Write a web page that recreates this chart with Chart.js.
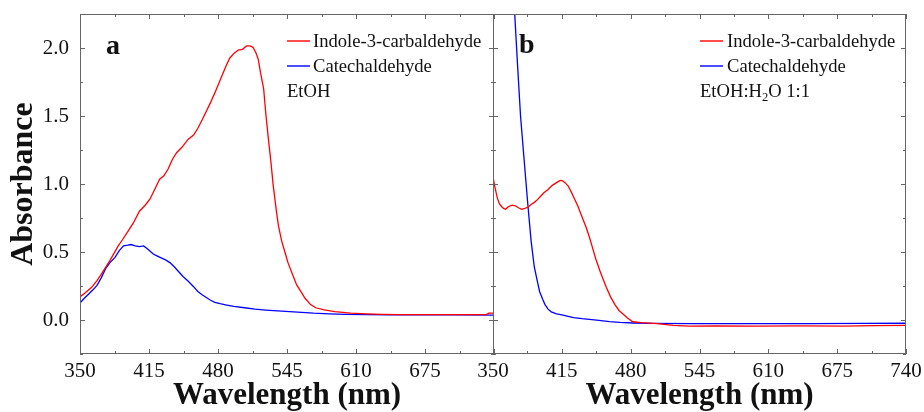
<!DOCTYPE html>
<html><head><meta charset="utf-8">
<script src="https://cdn.jsdelivr.net/npm/chart.js@4.4.1/dist/chart.umd.min.js"></script>
<style>
html,body{margin:0;padding:0;background:#fff;}
#wrap{position:relative;width:924px;height:412px;overflow:hidden;background:#fff;}
#ca{position:absolute;left:0;top:0;}
#cb{position:absolute;left:440px;top:0;}
</style></head><body>
<div id="wrap"><canvas id="ca" width="500" height="412"></canvas><canvas id="cb" width="484" height="412"></canvas></div>
<script>
// ---- tick labels ----
const xTicks = [350, 415, 480, 545, 610, 675, 740];
const yTicks = [0.0, 0.5, 1.0, 1.5, 2.0];

// ---- panel a (EtOH) ----
const aIndoleWl = [350,355,361,366,370,374,378,382,386,390,395,400,406,411,416,421,425,429,433,437,441,446,452,457,461,465,469,473,477,481,485,488,491,495,499,503,507,510,513,516,518,520,523,525,527.5,530,532,535,537,540,543,546,549.5,554,558,562,567,572,580,590,605,620,635,650,680,710,733,735,740];
const aIndole = [0.17,0.20,0.24,0.29,0.335,0.385,0.435,0.49,0.545,0.59,0.65,0.71,0.80,0.84,0.89,0.97,1.035,1.06,1.11,1.18,1.23,1.27,1.33,1.36,1.41,1.47,1.535,1.60,1.67,1.745,1.82,1.875,1.925,1.96,1.985,1.99,2.015,2.015,2.005,1.96,1.915,1.82,1.70,1.52,1.33,1.15,0.99,0.80,0.69,0.58,0.50,0.42,0.35,0.26,0.21,0.16,0.115,0.09,0.074,0.062,0.05,0.045,0.042,0.04,0.04,0.04,0.04,0.05,0.05];
const aCatecholWl = [350,354,358,362,366,370,374,378,383,387,391,395,398,402,406,410,414,419,423,427,431,435,439,443,447,452,457,461,465,469,473,477,482,487,495,505,515,525,540,555,570,585,600,620,640,700,740];
const aCatechol = [0.125,0.16,0.19,0.22,0.255,0.31,0.375,0.42,0.46,0.51,0.545,0.55,0.555,0.545,0.54,0.545,0.52,0.485,0.47,0.455,0.44,0.42,0.39,0.355,0.32,0.285,0.245,0.21,0.185,0.165,0.145,0.13,0.12,0.112,0.10,0.09,0.08,0.073,0.065,0.058,0.05,0.045,0.042,0.04,0.038,0.037,0.036];

// ---- panel b (EtOH:H2O 1:1) ----
const bIndoleWl = [350,352,354,356,358,360,362,364,366,368,371,374,377,380,383,386,389,392,395,398,402,406,410,413,415,418,421,424,427,430,434,438,441,444,447,451,454,457,461,465,469,473,477,482,490,505,520,535,560,600,640,680,710,740];
const bIndole = [1.05,0.97,0.90,0.855,0.835,0.82,0.814,0.83,0.838,0.845,0.84,0.825,0.814,0.82,0.83,0.85,0.865,0.885,0.91,0.935,0.96,0.99,1.01,1.025,1.027,1.01,0.985,0.94,0.89,0.84,0.76,0.68,0.61,0.53,0.45,0.36,0.30,0.24,0.17,0.115,0.07,0.042,0.015,-0.013,-0.02,-0.027,-0.04,-0.045,-0.044,-0.045,-0.043,-0.045,-0.042,-0.04];
const bCatecholWl = [350,360,365,368,370.5,373,376,380,383,386,389,392,394,397,399,402,405,410,415,420,426,434,441,450,460,470,482,500,540,600,650,700,740];
const bCatechol = [5.0,3.7,3.0,2.6,2.25,1.90,1.50,1.12,0.84,0.58,0.39,0.28,0.21,0.15,0.115,0.08,0.06,0.045,0.037,0.028,0.018,0.01,0.005,-0.003,-0.012,-0.018,-0.022,-0.025,-0.027,-0.027,-0.026,-0.025,-0.024];

const seriesNames = ['Indole-3-carbaldehyde', 'Catechaldehyde'];

const xy = (w, v) => w.map((x, i) => ({x: x, y: v[i]}));
const SERIF = "'Liberation Serif', 'Times New Roman', serif";
const FRAME = '#666666';
const TXT = '#111111';

const decorPlugin = {
  id: 'decor',
  afterDatasetsDraw(chart, args, o) {
    const {ctx, chartArea: a, scales: {x, y}} = chart;
    ctx.save();
    ctx.strokeStyle = FRAME; ctx.lineWidth = 1;
    ctx.strokeRect(a.left + 0.5, a.top + 0.5, a.right - a.left - 1, a.bottom - a.top - 1);
    ctx.beginPath();
    for (let v = x.min; v <= x.max + 1e-6; v += 32.5) {
      const major = Math.abs(((v - 350) / 65) - Math.round((v - 350) / 65)) < 1e-6;
      const len = major ? 5 : 3;
      const px = Math.round(x.getPixelForValue(v)) + 0.5;
      ctx.moveTo(px, a.bottom); ctx.lineTo(px, a.bottom - len);
      ctx.moveTo(px, a.top); ctx.lineTo(px, a.top + len);
    }
    for (let v = y.min; v <= y.max + 1e-6; v += 0.25) {
      const major = Math.abs((v / 0.5) - Math.round(v / 0.5)) < 1e-6;
      const len = major ? 5 : 3;
      const py = Math.round(y.getPixelForValue(v)) + 0.5;
      ctx.moveTo(a.left, py); ctx.lineTo(a.left + len, py);
      ctx.moveTo(a.right, py); ctx.lineTo(a.right - len, py);
    }
    ctx.stroke();
    ctx.restore();
  },
  afterDraw(chart, args, o) {
    const {ctx} = chart;
    ctx.save();
    ctx.fillStyle = TXT;
    ctx.font = "bold 28px " + SERIF;
    ctx.textBaseline = 'alphabetic';
    ctx.textAlign = 'left';
    ctx.fillText(o.tag, o.tagX, o.tagY);
    ctx.font = "18.6px " + SERIF;
    chart.data.datasets.forEach((ds, i) => {
      const by = o.rowY[i];
      ctx.strokeStyle = ds.borderColor; ctx.lineWidth = 1.4;
      ctx.beginPath(); ctx.moveTo(o.lineX, by - 5.5); ctx.lineTo(o.lineX + 23, by - 5.5); ctx.stroke();
      ctx.fillStyle = TXT;
      ctx.fillText(ds.label, o.textX, by);
    });
    let cx = o.noteX; const ny = o.rowY[2];
    o.note.forEach(part => {
      if (part.sub) {
        ctx.font = "12.5px " + SERIF;
        ctx.fillText(part.t, cx, ny + 4);
      } else {
        ctx.font = "18.6px " + SERIF;
        ctx.fillText(part.t, cx, ny);
      }
      cx += ctx.measureText(part.t).width;
    });
    ctx.restore();
  }
};

function makeChart(id, datasets, opt) {
  return new Chart(document.getElementById(id), {
    type: 'line',
    data: {datasets: datasets},
    options: {
      responsive: false, animation: false,
      layout: {padding: {left: 0, top: 14, right: opt.padRight, bottom: 0}},
      plugins: {legend: {display: false}, tooltip: {enabled: false}, decor: opt.decor},
      elements: {point: {radius: 0}, line: {tension: 0}},
      scales: {
        x: {
          type: 'linear', min: 350, max: 740,
          afterBuildTicks: s => { s.ticks = xTicks.map(v => ({value: v})); },
          afterFit: s => { s.height = 58; s.paddingLeft = 0; s.paddingRight = 0; },
          grid: {display: false, drawTicks: false}, border: {display: false},
          ticks: {padding: 5, color: TXT, maxRotation: 0, autoSkip: false,
                  font: {family: SERIF, size: 21},
                  callback: (v) => (opt.hideLastX && v === 740) ? '' : String(v)},
          title: {display: true, text: 'Wavelength (nm)', color: TXT,
                  font: {family: SERIF, size: 31, weight: 'bold', lineHeight: 1},
                  padding: {top: 0, bottom: 1}}
        },
        y: {
          type: 'linear', min: -0.25, max: 2.25,
          afterBuildTicks: s => { s.ticks = yTicks.map(v => ({value: v})); },
          afterFit: s => { s.width = opt.yWidth; s.paddingTop = 0; s.paddingBottom = 0; },
          grid: {display: false, drawTicks: false}, border: {display: false},
          ticks: {display: opt.showY, padding: 11, color: TXT,
                  font: {family: SERIF, size: 21}, callback: v => v.toFixed(1)},
          title: {display: opt.showY, text: 'Absorbance', color: TXT,
                  font: {family: SERIF, size: 32, weight: 'bold', lineHeight: 1},
                  padding: {top: 8, bottom: 0}}
        }
      }
    },
    plugins: [decorPlugin]
  });
}

makeChart('ca', [
  {label: seriesNames[0], data: xy(aIndoleWl, aIndole), borderColor: '#ff0000', borderWidth: 1.3, fill: false},
  {label: seriesNames[1], data: xy(aCatecholWl, aCatechol), borderColor: '#0000ff', borderWidth: 1.3, fill: false}
], {padRight: 6, yWidth: 80, showY: true, hideLastX: true,
    decor: {tag: 'a', tagX: 106, tagY: 54, lineX: 287, textX: 313, noteX: 287, rowY: [46.5, 71.5, 96.5],
            note: [{t: 'EtOH'}]}});

makeChart('cb', [
  {label: seriesNames[0], data: xy(bIndoleWl, bIndole), borderColor: '#ff0000', borderWidth: 1.3, fill: false},
  {label: seriesNames[1], data: xy(bCatecholWl, bCatechol), borderColor: '#0000ff', borderWidth: 1.3, fill: false}
], {padRight: 18, yWidth: 53, showY: false, hideLastX: false,
    decor: {tag: 'b', tagX: 79, tagY: 53, lineX: 260, textX: 287, noteX: 260, rowY: [46.5, 71.5, 96.5],
            note: [{t: 'EtOH:H'}, {t: '2', sub: true}, {t: 'O 1:1'}]}});
</script>
</body></html>
